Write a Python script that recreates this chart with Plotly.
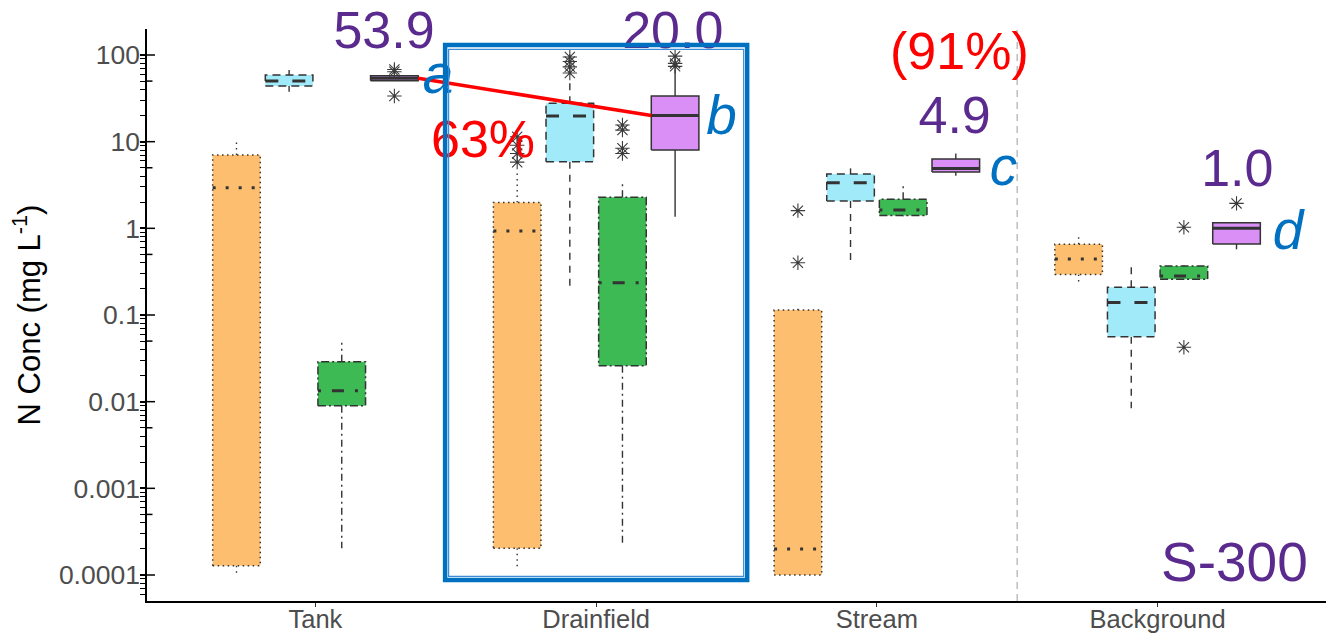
import plotly.graph_objects as go

# ---------------------------------------------------------------- data
sites = ["Tank", "Drainfield", "Stream", "Background"]
species = ["N1", "N2", "N3", "TN"]

# box statistics (mg/L), one value per site in the order of `sites`
n1_low = [0.000102, 0.000115, 0.0001, 0.242]
n1_q1 = [0.000128, 0.000203, 0.0001, 0.294]
n1_med = [2.94, 0.93, 0.0002, 0.442]
n1_q3 = [7.0, 1.99, 0.114, 0.654]
n1_high = [10.4, 4.3, 0.118, 0.787]
n1_out = [[], [11.4, 9.1, 7.3, 5.8], [1.6, 0.40], []]

n2_low = [37.7, 0.195, 0.41, 0.0084]
n2_q1 = [43.9, 5.87, 2.07, 0.0562]
n2_med = [50.0, 19.8, 3.36, 0.139]
n2_q3 = [58.7, 27.7, 4.23, 0.209]
n2_high = [67.0, 51.0, 4.92, 0.355]
n2_out = [[], [95.0, 84.0, 73.0, 62.0], [], []]

n3_low = [0.000203, 0.000212, 1.38, 0.255]
n3_q1 = [0.00898, 0.026, 1.41, 0.258]
n3_med = [0.01337, 0.236, 1.63, 0.282]
n3_q3 = [0.0289, 2.28, 2.16, 0.367]
n3_high = [0.0479, 3.45, 3.16, 0.375]
n3_out = [[], [15.6, 13.6, 8.4, 7.3], [], [1.03, 0.0424]]

tn_low = [50.0, 1.36, 4.05, 0.573]
tn_q1 = [50.5, 8.0, 4.47, 0.659]
tn_med = [53.9, 20.0, 4.9, 1.0]
tn_q3 = [57.6, 33.6, 6.3, 1.16]
tn_high = [58.5, 67.0, 7.3, 1.16]
tn_out = [[68.0, 64.0, 33.6], [97.0, 80.0, 74.0], [], [1.94]]

y_tick_vals = [0.0001, 0.001, 0.01, 0.1, 1, 10, 100]
y_tick_text = ["0.0001", "0.001", "0.01", "0.1", "1", "10", "100"]

# ---------------------------------------------------------------- styles
FONT = "Arial, Liberation Sans, sans-serif"
EDGE = "#333333"
fills = ["#FDBF6F", "#A1EAF9", "#3DBA54", "#D98FF5"]
edge_dash = ["1.5px,3.5px", "8px,5px", "8px,3px,2px,3px", "solid"]
median_dash = ["3px,10px", "13px,14px", "3px,11px,12px,11px", "solid"]
whisker_dash = ["1.5px,4px", "7px,6px", "7px,4px,2px,4px", "solid"]

stats = [
    (n1_low, n1_q1, n1_med, n1_q3, n1_high, n1_out),
    (n2_low, n2_q1, n2_med, n2_q3, n2_high, n2_out),
    (n3_low, n3_q1, n3_med, n3_q3, n3_high, n3_out),
    (tn_low, tn_q1, tn_med, tn_q3, tn_high, tn_out),
]

DODGE = 0.1875
HALF_W = 0.0848


def box_x(site_idx, sp_idx):
    return (site_idx + 1) + (sp_idx - 1.5) * DODGE


fig = go.Figure()

for j, (lo, q1, med, q3, hi, out) in enumerate(stats):
    for i in range(len(sites)):
        xc = box_x(i, j)
        x0, x1 = xc - HALF_W, xc + HALF_W
        # whiskers
        fig.add_trace(go.Scatter(
            x=[xc, xc, None, xc, xc], y=[q3[i], hi[i], None, q1[i], lo[i]],
            mode="lines", line=dict(color=EDGE, width=1.4, dash=whisker_dash[j]),
            showlegend=False, hoverinfo="skip"))
        # box body
        fig.add_trace(go.Scatter(
            x=[x0, x1, x1, x0, x0], y=[q1[i], q1[i], q3[i], q3[i], q1[i]],
            mode="lines", fill="toself", fillcolor=fills[j],
            line=dict(color=EDGE, width=1.5, dash=edge_dash[j]),
            showlegend=False, hoverinfo="skip"))
        # median
        fig.add_trace(go.Scatter(
            x=[x0, x1], y=[med[i], med[i]], mode="lines",
            line=dict(color=EDGE, width=3, dash=median_dash[j]),
            showlegend=False, hoverinfo="skip"))
        # outliers
        if out[i]:
            fig.add_trace(go.Scatter(
                x=[xc] * len(out[i]), y=out[i], mode="markers",
                marker=dict(symbol="asterisk-open", size=12, color="#3a3a3a",
                            line=dict(color="#3a3a3a", width=1.1)),
                showlegend=False, hoverinfo="skip"))

# reduction line joining TN medians (Tank -> Drainfield)
fig.add_trace(go.Scatter(
    x=[box_x(0, 3) + HALF_W, box_x(1, 3) - HALF_W], y=[tn_med[0], tn_med[1]],
    mode="lines", line=dict(color="#FF0000", width=3.5),
    showlegend=False, hoverinfo="skip"))

# inner log ticks on the y axis (decades long, fives shorter)
tick_x, tick_y = [], []
for k in range(-4, 3):
    for mult, ln in ((1, 8 / 281), (5, 5.5 / 281)):
        v = mult * 10.0 ** k
        if v > 200:
            continue
        tick_x += [0.4, 0.4 + ln, None]
        tick_y += [v, v, None]
fig.add_trace(go.Scatter(x=tick_x, y=tick_y, mode="lines",
                         line=dict(color="black", width=1.5),
                         showlegend=False, hoverinfo="skip", cliponaxis=False))

# minor tick positions 2..9 x 10^k
minor_vals = [m * 10.0 ** k for k in range(-5, 3) for m in range(2, 10)
              if 5e-5 < m * 10.0 ** k < 200]

# text labels: TN medians, reductions and group letters
reduction_dr = round(100 * (1 - tn_med[1] / tn_med[0]))
reduction_st = round(100 * (1 - tn_med[2] / tn_med[0]))

med_label_x = [1.2445, 2.273, 3.277, 4.284]
med_label_y = [172.0, 172.0, 17.9, 4.34]
fig.add_trace(go.Scatter(
    x=med_label_x, y=med_label_y, mode="text",
    text=[f"{v:.1f}" for v in tn_med], textposition="middle center",
    textfont=dict(family=FONT, size=52, color="#5B2A8E"),
    showlegend=False, hoverinfo="skip", cliponaxis=False))

fig.add_trace(go.Scatter(
    x=[1.597, 3.294], y=[9.5, 98.5], mode="text",
    text=[f"{reduction_dr}%", f"({reduction_st}%)"], textposition="middle center",
    textfont=dict(family=FONT, size=52, color="#FF0000"),
    showlegend=False, hoverinfo="skip", cliponaxis=False))

fig.add_trace(go.Scatter(
    x=[1.437, 2.447, 3.451, 4.465], y=[52.8, 17.7, 4.5, 0.835], mode="text",
    text=["a", "b", "c", "d"], textposition="middle center",
    textfont=dict(family=FONT, size=55, color="#0070C0", style="italic"),
    showlegend=False, hoverinfo="skip", cliponaxis=False))

# ---------------------------------------------------------------- layout
PLOT_TOP, PLOT_BOTTOM = 29, 601
H = 636


def py(px):
    return (PLOT_BOTTOM - px) / (PLOT_BOTTOM - PLOT_TOP)


shapes = [
    # separator between in-system sites and background
    dict(type="line", xref="x", yref="paper", x0=3.5, x1=3.5, y0=0, y1=1,
         line=dict(color="#BDBDBD", width=1.5, dash="7px,5px"), layer="below"),
    # highlight around the drainfield group (double border)
    dict(type="rect", xref="x", yref="paper", x0=2 - 0.538, x1=2 + 0.538,
         y0=py(580), y1=py(45), line=dict(color="#0070C0", width=4.5), layer="above"),
    dict(type="rect", xref="x", yref="paper", x0=2 - 0.5255, x1=2 + 0.5255,
         y0=py(576.3), y1=py(49.3), line=dict(color="#3C8DD6", width=1.2), layer="above"),
]

fig.update_layout(
    width=1326, height=H,
    margin=dict(l=147, r=0, t=PLOT_TOP, b=H - PLOT_BOTTOM, pad=0),
    paper_bgcolor="white", plot_bgcolor="white",
    font=dict(family=FONT),
    showlegend=False,
    shapes=shapes,
    annotations=[dict(text="S-300", xref="paper", yref="paper",
                      x=(1310 - 147) / 1179, y=py(562), xanchor="right", yanchor="middle",
                      showarrow=False, font=dict(family=FONT, size=55, color="#5B2A8E"))],
    xaxis=dict(range=[0.4, 4.6], tickmode="array", tickvals=[1, 2, 3, 4], ticktext=sites,
               ticks="outside", ticklen=4, tickwidth=1.2, tickcolor="#333333",
               ticklabelstandoff=-9,
               showline=True, linecolor="black", linewidth=1.5,
               showgrid=False, zeroline=False, automargin=False,
               tickfont=dict(family=FONT, size=25.5, color="#4D4D4D")),
    yaxis=dict(type="log", range=[-4.30, 2.30], tickmode="array",
               tickvals=y_tick_vals, ticktext=y_tick_text,
               ticks="outside", ticklen=5, tickwidth=1.5, tickcolor="black",
               ticklabelstandoff=-5,
               minor=dict(tickmode="array", tickvals=minor_vals, ticks="outside",
                          ticklen=5, tickwidth=1.2, tickcolor="black", showgrid=False),
               showline=True, linecolor="black", linewidth=1.5,
               showgrid=False, zeroline=False, automargin=False,
               tickfont=dict(family=FONT, size=26.5, color="#4D4D4D"),
               title=dict(text="N Conc (mg L<sup>-1</sup>)",
                          font=dict(family=FONT, size=31, color="black"), standoff=9)),
)

fig.write_html("out.html")
